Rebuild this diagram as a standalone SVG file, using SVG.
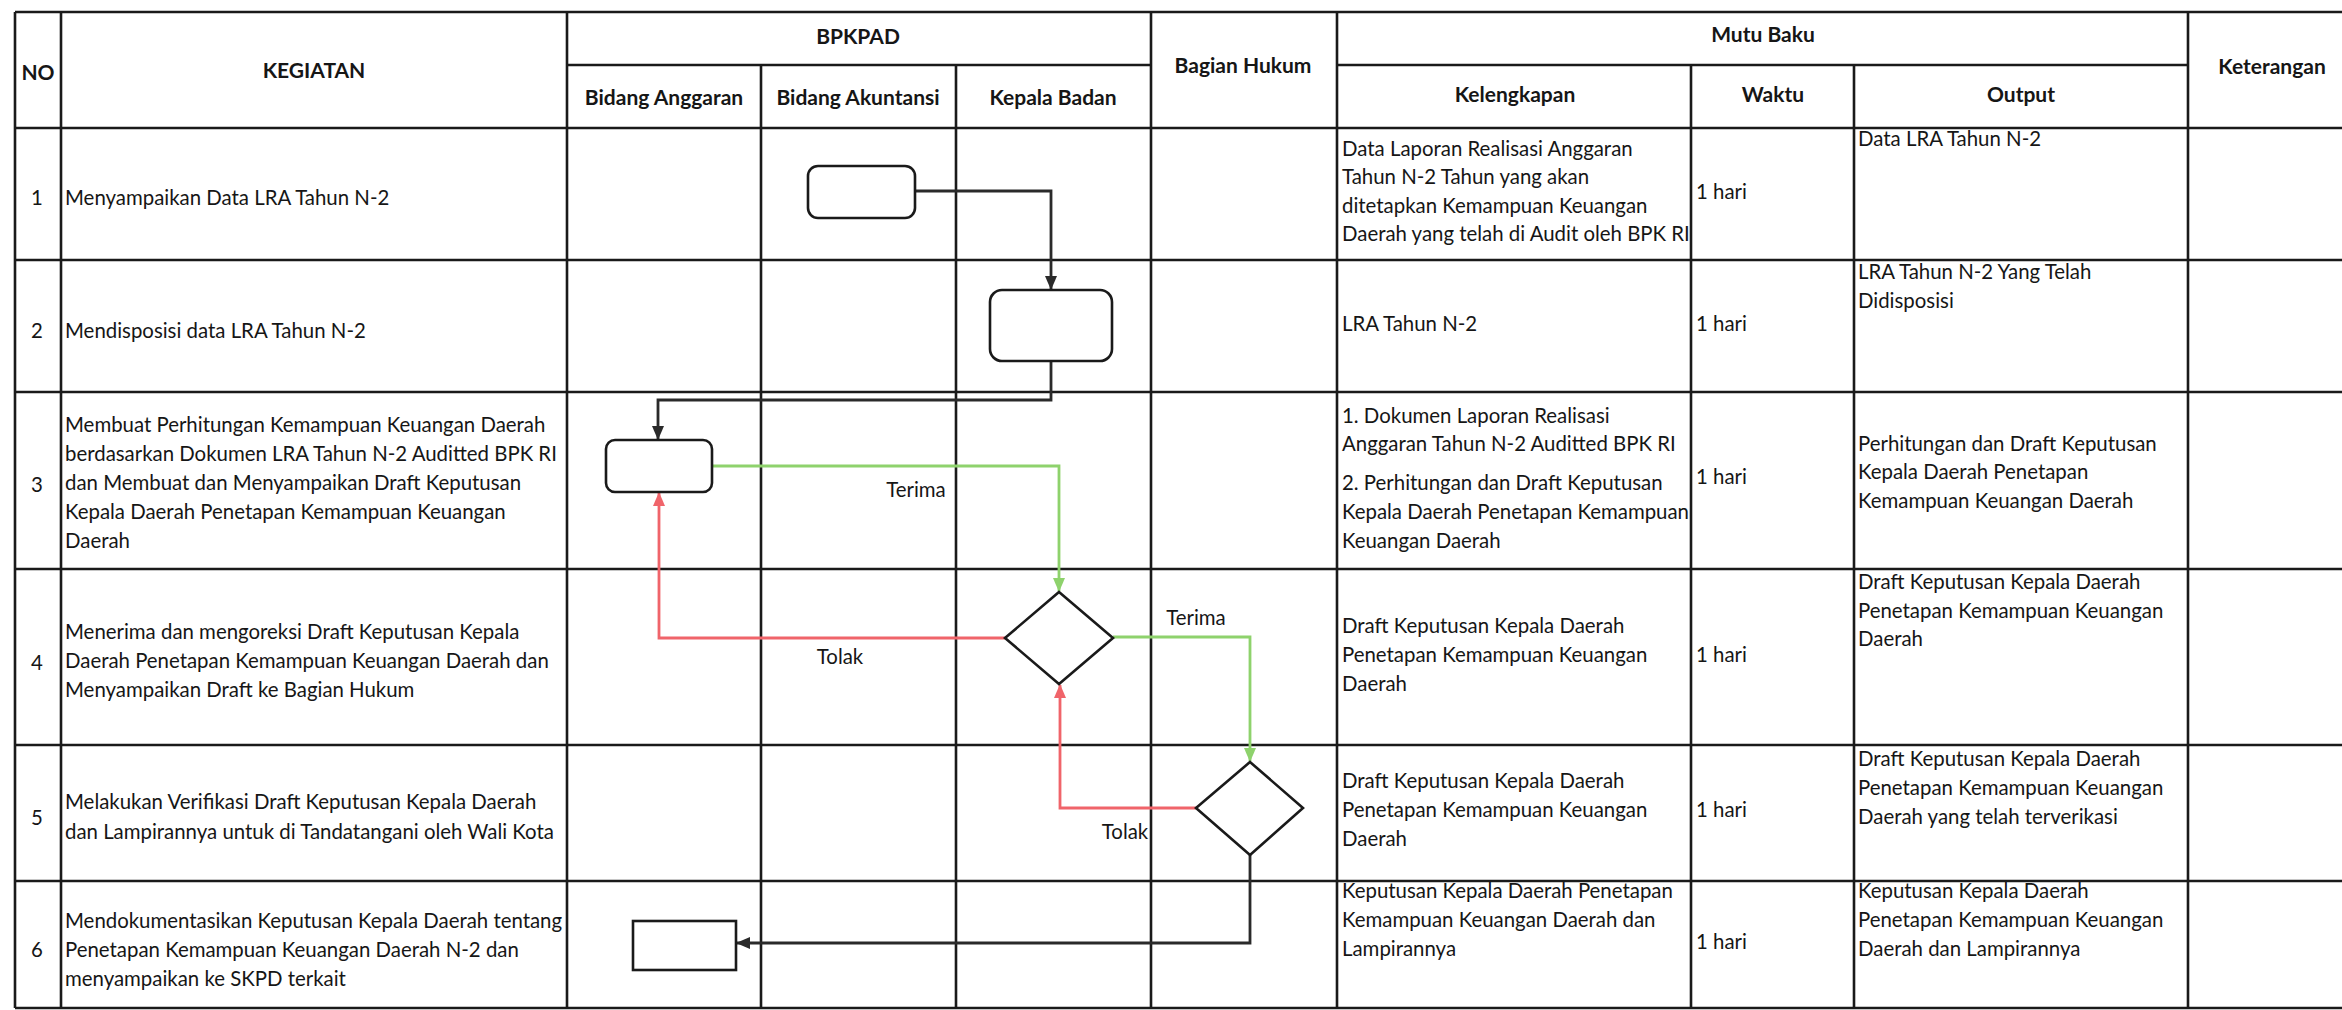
<svg xmlns="http://www.w3.org/2000/svg" width="2342" height="1010" viewBox="0 0 2342 1010">
<defs>
<style>
.t{font-family:Lato,"Carlito","Liberation Sans",sans-serif;font-size:20.4px;fill:#161616}
.h{font-family:Lato,"Carlito","Liberation Sans",sans-serif;font-size:21px;font-weight:bold;fill:#161616;text-anchor:middle}
.c{text-anchor:middle}
.grid line{stroke:#1a1a1a;stroke-width:2.6}
.shape{fill:#fff;stroke:#1a1a1a;stroke-width:2.6}
.k{fill:none;stroke:#2a2a2a;stroke-width:2.8}
.g{fill:none;stroke:#8ed26c;stroke-width:2.8}
.r{fill:none;stroke:#f0646a;stroke-width:2.8}
</style>
<marker id="ak" markerWidth="14" markerHeight="12" refX="13" refY="6" orient="auto" markerUnits="userSpaceOnUse"><path d="M0,0 L14,6 L0,12 Z" fill="#2a2a2a"/></marker>
<marker id="ag" markerWidth="14" markerHeight="12" refX="13" refY="6" orient="auto" markerUnits="userSpaceOnUse"><path d="M0,0 L14,6 L0,12 Z" fill="#8ed26c"/></marker>
<marker id="ar" markerWidth="14" markerHeight="12" refX="13" refY="6" orient="auto" markerUnits="userSpaceOnUse"><path d="M0,0 L14,6 L0,12 Z" fill="#f0646a"/></marker>
</defs>
<rect width="2342" height="1010" fill="#ffffff"/>
<g id="table" class="grid">
<line x1="15" y1="12" x2="2342" y2="12"/>
<line x1="567" y1="65" x2="1151" y2="65"/>
<line x1="1337" y1="65" x2="2188" y2="65"/>
<line x1="15" y1="128" x2="2342" y2="128"/>
<line x1="15" y1="260" x2="2342" y2="260"/>
<line x1="15" y1="392" x2="2342" y2="392"/>
<line x1="15" y1="569" x2="2342" y2="569"/>
<line x1="15" y1="745" x2="2342" y2="745"/>
<line x1="15" y1="881" x2="2342" y2="881"/>
<line x1="15" y1="1008" x2="2342" y2="1008"/>
<line x1="15" y1="12" x2="15" y2="1008"/>
<line x1="61" y1="12" x2="61" y2="1008"/>
<line x1="567" y1="12" x2="567" y2="1008"/>
<line x1="761" y1="65" x2="761" y2="1008"/>
<line x1="956" y1="65" x2="956" y2="1008"/>
<line x1="1151" y1="12" x2="1151" y2="1008"/>
<line x1="1337" y1="12" x2="1337" y2="1008"/>
<line x1="1691" y1="65" x2="1691" y2="1008"/>
<line x1="1854" y1="65" x2="1854" y2="1008"/>
<line x1="2188" y1="12" x2="2188" y2="1008"/>
</g>
<g id="headers">
<text class="h" x="38" y="80">NO</text>
<text class="h" x="314" y="78">KEGIATAN</text>
<text class="h" x="858" y="44">BPKPAD</text>
<text class="h" x="664" y="105">Bidang Anggaran</text>
<text class="h" x="858" y="105">Bidang Akuntansi</text>
<text class="h" x="1053" y="105">Kepala Badan</text>
<text class="h" x="1243" y="73">Bagian Hukum</text>
<text class="h" x="1763" y="42">Mutu Baku</text>
<text class="h" x="1515" y="102">Kelengkapan</text>
<text class="h" x="1773" y="102">Waktu</text>
<text class="h" x="2021" y="102">Output</text>
<text class="h" x="2272" y="74">Keterangan</text>
</g>
<g id="row1">
<text class="t c" x="37" y="205">1</text>
<text class="t" x="65" y="205">Menyampaikan Data LRA Tahun N-2</text>
<text class="t"><tspan x="1342" y="156">Data Laporan Realisasi Anggaran</tspan><tspan x="1342" y="184">Tahun N-2 Tahun yang akan</tspan><tspan x="1342" y="213">ditetapkan Kemampuan Keuangan</tspan><tspan x="1342" y="241">Daerah yang telah di Audit oleh BPK RI</tspan></text>
<text class="t" x="1696" y="199">1 hari</text>
<text class="t" x="1858" y="146">Data LRA Tahun N-2</text>
</g>
<g id="row2">
<text class="t c" x="37" y="338">2</text>
<text class="t" x="65" y="338">Mendisposisi data LRA Tahun N-2</text>
<text class="t" x="1342" y="331">LRA Tahun N-2</text>
<text class="t" x="1696" y="331">1 hari</text>
<text class="t"><tspan x="1858" y="279">LRA Tahun N-2 Yang Telah</tspan><tspan x="1858" y="308">Didisposisi</tspan></text>
</g>
<g id="row3">
<text class="t c" x="37" y="492">3</text>
<text class="t"><tspan x="65" y="432">Membuat Perhitungan Kemampuan Keuangan Daerah</tspan><tspan x="65" y="461">berdasarkan Dokumen LRA Tahun N-2 Auditted BPK RI</tspan><tspan x="65" y="490">dan Membuat dan Menyampaikan Draft Keputusan</tspan><tspan x="65" y="519">Kepala Daerah Penetapan Kemampuan Keuangan</tspan><tspan x="65" y="548">Daerah</tspan></text>
<text class="t"><tspan x="1342" y="423">1. Dokumen Laporan Realisasi</tspan><tspan x="1342" y="451">Anggaran Tahun N-2 Auditted BPK RI</tspan><tspan x="1342" y="490">2. Perhitungan dan Draft Keputusan</tspan><tspan x="1342" y="519">Kepala Daerah Penetapan Kemampuan</tspan><tspan x="1342" y="548">Keuangan Daerah</tspan></text>
<text class="t" x="1696" y="484">1 hari</text>
<text class="t"><tspan x="1858" y="451">Perhitungan dan Draft Keputusan</tspan><tspan x="1858" y="479">Kepala Daerah Penetapan</tspan><tspan x="1858" y="508">Kemampuan Keuangan Daerah</tspan></text>
</g>
<g id="row4">
<text class="t c" x="37" y="670">4</text>
<text class="t"><tspan x="65" y="639">Menerima dan mengoreksi Draft Keputusan Kepala</tspan><tspan x="65" y="668">Daerah Penetapan Kemampuan Keuangan Daerah dan</tspan><tspan x="65" y="697">Menyampaikan Draft ke Bagian Hukum</tspan></text>
<text class="t"><tspan x="1342" y="633">Draft Keputusan Kepala Daerah</tspan><tspan x="1342" y="662">Penetapan Kemampuan Keuangan</tspan><tspan x="1342" y="691">Daerah</tspan></text>
<text class="t" x="1696" y="662">1 hari</text>
<text class="t"><tspan x="1858" y="589">Draft Keputusan Kepala Daerah</tspan><tspan x="1858" y="618">Penetapan Kemampuan Keuangan</tspan><tspan x="1858" y="646">Daerah</tspan></text>
</g>
<g id="row5">
<text class="t c" x="37" y="825">5</text>
<text class="t"><tspan x="65" y="809">Melakukan Verifikasi Draft Keputusan Kepala Daerah</tspan><tspan x="65" y="839">dan Lampirannya untuk di Tandatangani oleh Wali Kota</tspan></text>
<text class="t"><tspan x="1342" y="788">Draft Keputusan Kepala Daerah</tspan><tspan x="1342" y="817">Penetapan Kemampuan Keuangan</tspan><tspan x="1342" y="846">Daerah</tspan></text>
<text class="t" x="1696" y="817">1 hari</text>
<text class="t"><tspan x="1858" y="766">Draft Keputusan Kepala Daerah</tspan><tspan x="1858" y="795">Penetapan Kemampuan Keuangan</tspan><tspan x="1858" y="824">Daerah yang telah terverikasi</tspan></text>
</g>
<g id="row6">
<text class="t c" x="37" y="957">6</text>
<text class="t"><tspan x="65" y="928">Mendokumentasikan Keputusan Kepala Daerah tentang</tspan><tspan x="65" y="957">Penetapan Kemampuan Keuangan Daerah N-2 dan</tspan><tspan x="65" y="986">menyampaikan ke SKPD terkait</tspan></text>
<text class="t"><tspan x="1342" y="898">Keputusan Kepala Daerah Penetapan</tspan><tspan x="1342" y="927">Kemampuan Keuangan Daerah dan</tspan><tspan x="1342" y="956">Lampirannya</tspan></text>
<text class="t" x="1696" y="949">1 hari</text>
<text class="t"><tspan x="1858" y="898">Keputusan Kepala Daerah</tspan><tspan x="1858" y="927">Penetapan Kemampuan Keuangan</tspan><tspan x="1858" y="956">Daerah dan Lampirannya</tspan></text>
</g>
<g id="connectors">
<path class="k" d="M915,191 H1051 V289" marker-end="url(#ak)"/>
<path class="k" d="M1051,361 V400 H658 V439" marker-end="url(#ak)"/>
<path class="g" d="M712,466 H1059 V591" marker-end="url(#ag)"/>
<path class="r" d="M1005,638 H659 V493" marker-end="url(#ar)"/>
<path class="g" d="M1113,637 H1250 V761" marker-end="url(#ag)"/>
<path class="r" d="M1196,808 H1060 V685" marker-end="url(#ar)"/>
<path class="k" d="M1250,855 V943 H737" marker-end="url(#ak)"/>
<text class="t c" x="916" y="497">Terima</text>
<text class="t c" x="840" y="664">Tolak</text>
<text class="t c" x="1196" y="625">Terima</text>
<text class="t c" x="1125" y="839">Tolak</text>
</g>
<g id="n1"><rect class="shape" x="808" y="166" width="107" height="52" rx="10"/></g>
<g id="n2"><rect class="shape" x="990" y="290" width="122" height="71" rx="12"/></g>
<g id="n3"><rect class="shape" x="606" y="440" width="106" height="52" rx="9"/></g>
<g id="n4"><polygon class="shape" points="1059,592 1113,638 1059,684 1005,638"/></g>
<g id="n5"><polygon class="shape" points="1250,762 1303,808 1250,855 1196,808"/></g>
<g id="n6"><rect class="shape" x="633" y="921" width="103" height="49"/></g>
</svg>
